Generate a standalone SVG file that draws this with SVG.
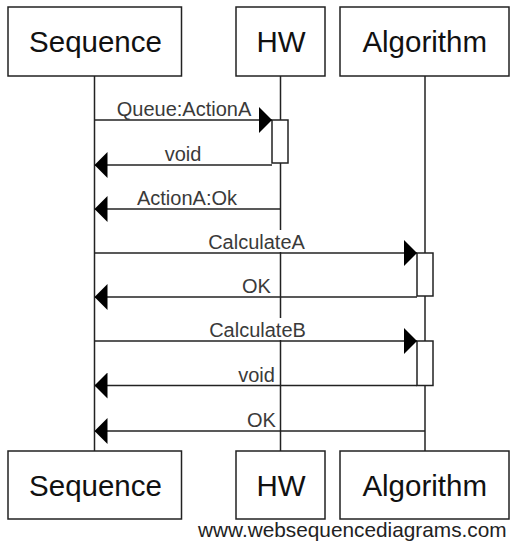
<svg xmlns="http://www.w3.org/2000/svg" width="516" height="544" viewBox="0 0 516 544">
<style>
.box{fill:#fff;stroke:#222;stroke-width:1.5}
.life{stroke:#222;stroke-width:1.5;fill:none}
.act{fill:#fff;stroke:#222;stroke-width:1.5}
.msg{stroke:#222;stroke-width:1.5;fill:none;marker-end:url(#ah)}
.pt{font-family:"Liberation Sans",Arial,sans-serif;font-size:29.5px;fill:#111;text-anchor:middle}
.lb{font-family:"Liberation Sans",Arial,sans-serif;font-size:20px;fill:#3a3a3a;text-anchor:middle}
.bg{fill:#fff}
.wm{font-family:"Liberation Sans",Arial,sans-serif;font-size:20.8px;fill:#222}
</style>
<defs>
<marker id="ah" markerUnits="userSpaceOnUse" viewBox="0 0 13 26" markerWidth="13" markerHeight="26" refX="13" refY="13" orient="auto">
<path d="M0,0 L13,13 L0,26 Z" fill="#000"/>
</marker>
</defs>
<g id="lifelines">
<line class="life" x1="94.5" y1="76" x2="94.5" y2="451"/>
<line class="life" x1="280.5" y1="76" x2="280.5" y2="451"/>
<line class="life" x1="425" y1="76" x2="425" y2="451"/>
</g>
<g id="activations">
<rect class="act" x="272" y="120" width="16" height="43"/>
<rect class="act" x="417" y="253" width="16" height="43"/>
<rect class="act" x="417" y="341" width="16" height="44.5"/>
</g>
<g id="participant-sequence">
<rect class="box" x="8" y="7" width="173.5" height="69"/>
<text class="pt" x="95.5" y="52">Sequence</text>
<rect class="box" x="8" y="451" width="173.5" height="68"/>
<text class="pt" x="95.5" y="495.5">Sequence</text>
</g>
<g id="participant-hw">
<rect class="box" x="236" y="7" width="89" height="69"/>
<text class="pt" x="281" y="52">HW</text>
<rect class="box" x="236" y="451" width="89" height="68"/>
<text class="pt" x="281" y="495.5">HW</text>
</g>
<g id="participant-algorithm">
<rect class="box" x="340" y="7" width="169" height="69"/>
<text class="pt" x="424.7" y="52">Algorithm</text>
<rect class="box" x="340" y="451" width="169" height="68"/>
<text class="pt" x="424.7" y="495.5">Algorithm</text>
</g>
<g id="connectors">
<rect class="bg" x="206" y="230" width="100" height="22"/>
<rect class="bg" x="208" y="318" width="100" height="22"/>
<line class="msg" x1="94.5" y1="120" x2="272" y2="120"/>
<text class="lb" x="184" y="116">Queue:ActionA</text>
<line class="msg" x1="272" y1="165" x2="94.5" y2="165"/>
<text class="lb" x="183" y="161">void</text>
<line class="msg" x1="280.5" y1="209" x2="94.5" y2="209"/>
<text class="lb" x="187" y="205">ActionA:Ok</text>
<line class="msg" x1="94.5" y1="253" x2="417" y2="253"/>
<text class="lb" x="256.5" y="249">CalculateA</text>
<line class="msg" x1="417" y1="297" x2="94.5" y2="297"/>
<text class="lb" x="256.5" y="293">OK</text>
<line class="msg" x1="94.5" y1="341" x2="417" y2="341"/>
<text class="lb" x="257.5" y="337">CalculateB</text>
<line class="msg" x1="417" y1="385.5" x2="94.5" y2="385.5"/>
<text class="lb" x="256.5" y="381.5">void</text>
<line class="msg" x1="425" y1="431" x2="94.5" y2="431"/>
<text class="lb" x="261.5" y="427">OK</text>
</g>
<text class="wm" x="198" y="537">www.websequencediagrams.com</text>
</svg>
